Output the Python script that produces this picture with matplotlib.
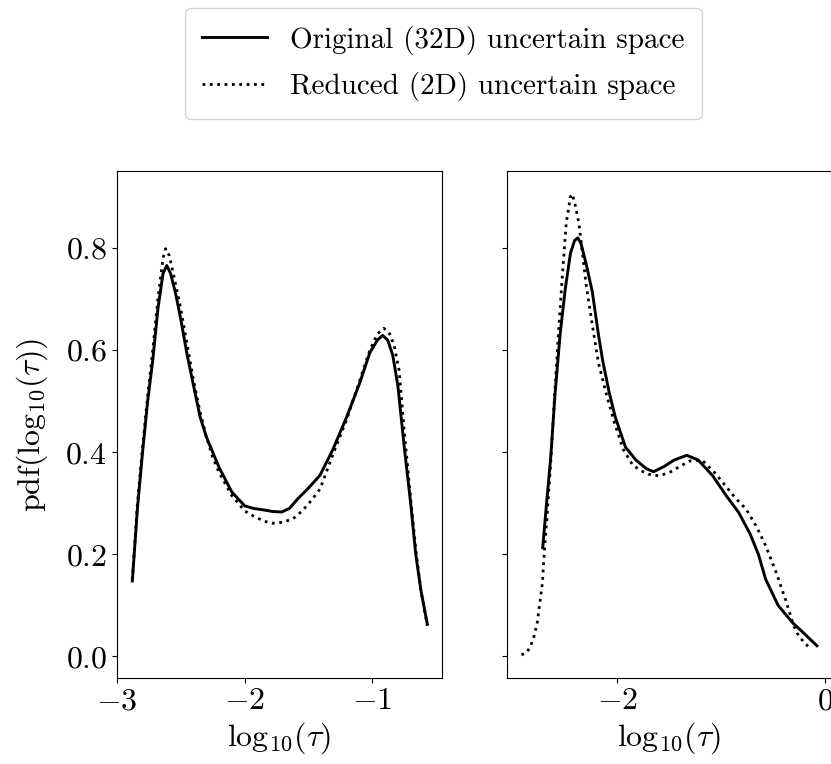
import matplotlib
matplotlib.use("Agg")
import matplotlib.pyplot as plt

plt.rcParams["font.family"] = "serif"
plt.rcParams["font.serif"] = ["cmr10", "DejaVu Serif"]
plt.rcParams["mathtext.fontset"] = "cm"
plt.rcParams["axes.formatter.use_mathtext"] = True
plt.rcParams["font.size"] = 23

# left panel: log10(tau) pdf, original (32D) vs reduced (2D)
left_orig_x = [-2.88, -2.84, -2.80, -2.76, -2.72, -2.68, -2.64, -2.61, -2.58, -2.54, -2.50, -2.45,
               -2.40, -2.35, -2.30, -2.25, -2.20, -2.10, -2.00, -1.93, -1.85, -1.78, -1.71, -1.65,
               -1.58, -1.50, -1.41, -1.31, -1.20, -1.10, -1.02, -0.96, -0.92, -0.88, -0.84, -0.80,
               -0.75, -0.70, -0.66, -0.62, -0.57]
left_orig_y = [0.148, 0.29, 0.40, 0.50, 0.58, 0.68, 0.75, 0.766, 0.75, 0.71, 0.66, 0.59,
               0.53, 0.47, 0.43, 0.40, 0.37, 0.322, 0.295, 0.29, 0.287, 0.284, 0.283, 0.29,
               0.31, 0.33, 0.355, 0.405, 0.47, 0.535, 0.595, 0.62, 0.629, 0.62, 0.59, 0.53,
               0.41, 0.30, 0.20, 0.13, 0.064]

left_red_x = [-2.88, -2.84, -2.80, -2.76, -2.72, -2.68, -2.64, -2.62, -2.59, -2.55, -2.50, -2.45,
              -2.40, -2.35, -2.30, -2.25, -2.20, -2.10, -2.00, -1.93, -1.85, -1.78, -1.70, -1.62,
              -1.55, -1.48, -1.41, -1.31, -1.20, -1.10, -1.02, -0.96, -0.91, -0.87, -0.83, -0.79,
              -0.75, -0.70, -0.66, -0.62, -0.57]
left_red_y = [0.15, 0.30, 0.41, 0.51, 0.60, 0.70, 0.78, 0.799, 0.785, 0.74, 0.68, 0.61,
              0.54, 0.48, 0.43, 0.39, 0.36, 0.315, 0.285, 0.275, 0.265, 0.261, 0.263, 0.27,
              0.285, 0.305, 0.328, 0.395, 0.465, 0.54, 0.60, 0.632, 0.643, 0.635, 0.61, 0.56,
              0.44, 0.31, 0.21, 0.13, 0.06]

# right panel
right_orig_x = [-2.717, -2.68, -2.64, -2.60, -2.55, -2.50, -2.45, -2.41, -2.38, -2.35, -2.30, -2.24,
                -2.18, -2.14, -2.08, -2.02, -1.92, -1.82, -1.72, -1.65, -1.55, -1.45, -1.33, -1.22,
                -1.08, -0.95, -0.83, -0.72, -0.64, -0.57, -0.45, -0.31, -0.20, -0.077]
right_orig_y = [0.213, 0.30, 0.39, 0.51, 0.63, 0.72, 0.79, 0.815, 0.820, 0.81, 0.77, 0.715,
                0.63, 0.58, 0.52, 0.47, 0.41, 0.385, 0.368, 0.362, 0.372, 0.385, 0.394, 0.385,
                0.354, 0.315, 0.282, 0.24, 0.20, 0.151, 0.10, 0.066, 0.045, 0.021]

right_red_x = [-2.922, -2.87, -2.835, -2.80, -2.77, -2.72, -2.70, -2.675, -2.64, -2.60, -2.56, -2.53,
               -2.49, -2.45, -2.434, -2.41, -2.37, -2.34, -2.30, -2.24, -2.18, -2.11, -2.03, -1.94,
               -1.85, -1.78, -1.70, -1.60, -1.50, -1.40, -1.30, -1.18, -1.06, -0.96, -0.86, -0.76,
               -0.66, -0.57, -0.47, -0.38, -0.30, -0.25, -0.15]
right_red_y = [0.003, 0.008, 0.02, 0.04, 0.066, 0.144, 0.21, 0.276, 0.38, 0.52, 0.65, 0.74,
               0.85, 0.90, 0.906, 0.89, 0.85, 0.80, 0.73, 0.65, 0.575, 0.518, 0.46, 0.405,
               0.375, 0.365, 0.357, 0.354, 0.36, 0.372, 0.383, 0.384, 0.36, 0.335, 0.31, 0.289,
               0.255, 0.217, 0.165, 0.112, 0.06, 0.039, 0.017]

labels = ["Original (32D) uncertain space", "Reduced (2D) uncertain space"]
yticks = [0.0, 0.2, 0.4, 0.6, 0.8]
left_xticks = [-3, -2, -1]
right_xticks = [-2, 0]

fig = plt.figure(figsize=(8.31, 7.64), dpi=100)
ax1 = fig.add_axes([0.1408, 0.1126, 0.3911, 0.6636])
ax2 = fig.add_axes([0.6097, 0.1126, 0.3911, 0.6636], sharey=ax1)

h1, = ax1.plot(left_orig_x, left_orig_y, color="black", lw=2.1, ls="-")
h2, = ax1.plot(left_red_x, left_red_y, color="black", lw=2, ls=":")
ax2.plot(right_orig_x, right_orig_y, color="black", lw=2.1, ls="-")
ax2.plot(right_red_x, right_red_y, color="black", lw=2, ls=":")

ax1.set_yticks(yticks)
ax1.set_xticks(left_xticks)
ax2.set_xticks(right_xticks)
ax2.tick_params(labelleft=False)

xlab = r"$\mathrm{log}_{10}(\tau)$"
ax1.set_xlabel(xlab)
ax2.set_xlabel(xlab)
ax1.set_ylabel(r"$\mathrm{pdf}(\mathrm{log}_{10}(\tau))$", labelpad=11)

fig.legend([h1, h2], labels, loc="upper left", bbox_to_anchor=(0.2226, 0.9895),
           borderaxespad=0, fontsize=21, handlelength=2.2, handletextpad=0.8,
           borderpad=0.6, labelspacing=0.6)

fig.savefig("out.png", dpi=100)
